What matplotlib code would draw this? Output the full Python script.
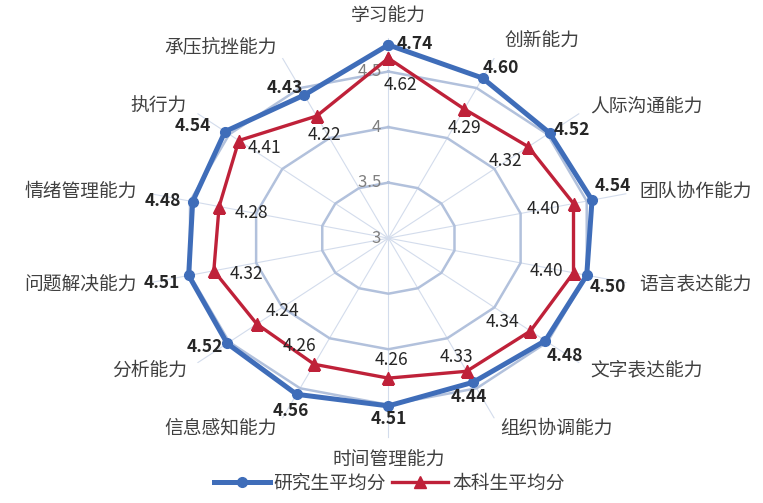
import numpy as np
import matplotlib
matplotlib.use("Agg")
import matplotlib.pyplot as plt

plt.rcParams["font.family"] = ["Noto Sans CJK SC", "DejaVu Sans"]

categories = ["学习能力", "创新能力", "人际沟通能力", "团队协作能力", "语言表达能力",
              "文字表达能力", "组织协调能力", "时间管理能力", "信息感知能力", "分析能力",
              "问题解决能力", "情绪管理能力", "执行力", "承压抗挫能力"]
graduate = [4.74, 4.60, 4.52, 4.54, 4.50, 4.48, 4.44, 4.51, 4.56, 4.52, 4.51, 4.48, 4.54, 4.43]
undergrad = [4.62, 4.29, 4.32, 4.40, 4.40, 4.34, 4.33, 4.26, 4.26, 4.24, 4.32, 4.28, 4.41, 4.22]
series_names = ["研究生平均分", "本科生平均分"]
ring_levels = [3.5, 4, 4.5]
tick_labels = ["3", "3.5", "4", "4.5"]

# label offsets in pixels (x right, y up)
g_offsets = [(26, 1), (18, 10), (22, 3), (21, 14), (21, -12), (19, -15), (-4, -15),
             (0, -13), (-6, -17), (-22, -4), (-27, -8), (-30, 1), (-32, 6), (-19, 7)]
u_offsets = [(12, -27), (0, -19), (-23, -14), (-30, -5), (-27, 2), (-28, 9), (-10, 14),
             (3, 18), (-15, 18), (26, 13), (33, -3), (32, -6), (26, -7), (8, -19)]

BLUE = "#3F6DB9"
RED = "#BF2139"
GRID = "#B2C1DC"

n = len(categories)
theta = np.arange(n) * 2 * np.pi / n
theta_c = np.append(theta, theta[0])

fig = plt.figure(figsize=(7.63, 5.03), dpi=100)
ax = fig.add_axes([0.189, 0.129, 0.640, 0.795], projection="polar")
ax.set_aspect("auto")
ax.set_theta_zero_location("N")
ax.set_theta_direction(-1)
ax.set_ylim(3, 4.8)
ax.grid(False)
ax.set_xticks([])
ax.set_yticks([])
ax.spines["polar"].set_visible(False)

# polygon rings and spokes
for lv in ring_levels:
    ax.plot(theta_c, [lv] * (n + 1), color=GRID, lw=1.8, zorder=1)
for t in theta:
    ax.plot([t, t], [3, 4.82], color="#D3DCEC", lw=0.8, zorder=0)

for lab, r in zip(tick_labels, [3] + ring_levels):
    ax.text(0, r, lab + "  ", ha="right", va="center", fontsize=12, color="#7F7F7F",
            zorder=2)

g_vals = graduate + graduate[:1]
u_vals = undergrad + undergrad[:1]
ax.plot(theta_c, g_vals, color=BLUE, lw=3.6, marker="o", ms=7, zorder=4,
        label=series_names[0])
ax.plot(theta_c, u_vals, color=RED, lw=2.4, marker="^", ms=8.5, zorder=5,
        label=series_names[1])

# data labels
for t, g, u, go, uo in zip(theta, graduate, undergrad, g_offsets, u_offsets):
    ax.annotate(f"{g:.2f}", (t, g), xytext=go, textcoords="offset pixels",
                ha="center", va="center", fontsize=12.5, fontweight="bold", color="#262626",
                zorder=6)
    ax.annotate(f"{u:.2f}", (t, u), xytext=uo, textcoords="offset pixels",
                ha="center", va="center", fontsize=12.5, color="#262626", zorder=6)

# category labels
for t, name in zip(theta, categories):
    s = np.sin(t)
    if abs(s) < 0.05:
        ha = "center"
    elif s > 0:
        ha = "left"
    else:
        ha = "right"
    r = 5.0 if ha == "center" else 4.9
    if name == "创新能力":
        r = 4.98
    ax.text(t, r, name, ha=ha, va="center", fontsize=13.5, color="#404040")

fig.legend(loc="lower center", bbox_to_anchor=(0.51, -0.015), ncol=2, frameon=False,
           fontsize=13.5, handlelength=3.0, columnspacing=0.3, handletextpad=0.2,
           labelcolor="#404040")

fig.savefig("out.png", dpi=100)
